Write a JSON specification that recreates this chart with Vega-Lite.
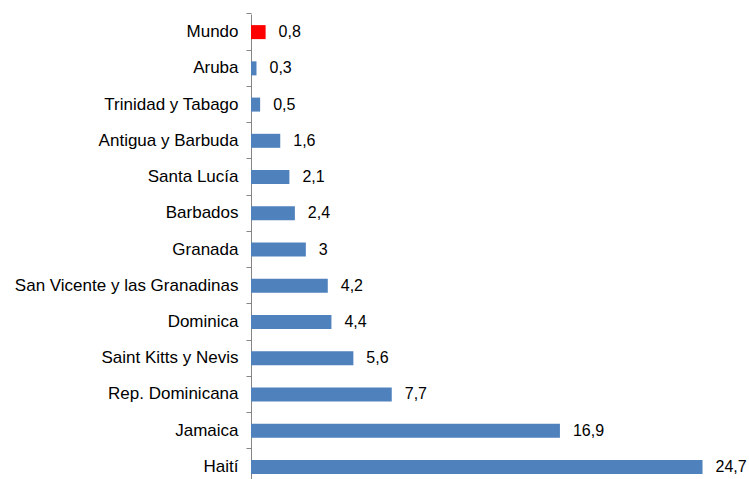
{
  "$schema": "https://vega.github.io/schema/vega-lite/v6.json",
  "autosize": {"type": "none"},
  "width": 457,
  "height": 471,
  "padding": {"left": 251, "top": 14, "right": 41, "bottom": -6},
  "background": "white",
  "config": {"view": {"stroke": null}, "font": "Liberation Sans"},
  "data": {"values": [
    {"pais": "Mundo", "valor": 0.8, "etiqueta": "0,8", "grupo": "mundo"},
    {"pais": "Aruba", "valor": 0.3, "etiqueta": "0,3", "grupo": "pais"},
    {"pais": "Trinidad y Tabago", "valor": 0.5, "etiqueta": "0,5", "grupo": "pais"},
    {"pais": "Antigua y Barbuda", "valor": 1.6, "etiqueta": "1,6", "grupo": "pais"},
    {"pais": "Santa Lucía", "valor": 2.1, "etiqueta": "2,1", "grupo": "pais"},
    {"pais": "Barbados", "valor": 2.4, "etiqueta": "2,4", "grupo": "pais"},
    {"pais": "Granada", "valor": 3, "etiqueta": "3", "grupo": "pais"},
    {"pais": "San Vicente y las Granadinas\u00a0", "valor": 4.2, "etiqueta": "4,2", "grupo": "pais"},
    {"pais": "Dominica", "valor": 4.4, "etiqueta": "4,4", "grupo": "pais"},
    {"pais": "Saint Kitts y Nevis", "valor": 5.6, "etiqueta": "5,6", "grupo": "pais"},
    {"pais": "Rep. Dominicana", "valor": 7.7, "etiqueta": "7,7", "grupo": "pais"},
    {"pais": "Jamaica", "valor": 16.9, "etiqueta": "16,9", "grupo": "pais"},
    {"pais": "Haití", "valor": 24.7, "etiqueta": "24,7", "grupo": "pais"}
  ]},
  "encoding": {
    "y": {
      "field": "pais", "type": "nominal", "sort": null,
      "scale": {"paddingInner": 0, "paddingOuter": 0},
      "axis": {
        "title": null, "bandPosition": 0, "domainColor": "#868686", "tickColor": "#868686",
        "tickSize": 5, "labelPadding": 8, "labelFontSize": 17, "labelColor": "#000000",
        "labelFont": "Liberation Sans", "labelLimit": 0, "grid": false
      }
    },
    "x": {
      "field": "valor", "type": "quantitative",
      "scale": {"domain": [0, 25], "nice": false},
      "axis": null
    }
  },
  "layer": [
    {
      "mark": {"type": "bar", "height": 14},
      "encoding": {
        "color": {
          "field": "grupo", "type": "nominal",
          "scale": {"domain": ["mundo", "pais"], "range": ["#ff0000", "#4f81bd"]},
          "legend": null
        }
      }
    },
    {
      "mark": {"type": "text", "align": "left", "baseline": "middle", "dx": 13, "fontSize": 16, "color": "#000000", "font": "Liberation Sans"},
      "encoding": {"text": {"field": "etiqueta"}}
    }
  ]
}
